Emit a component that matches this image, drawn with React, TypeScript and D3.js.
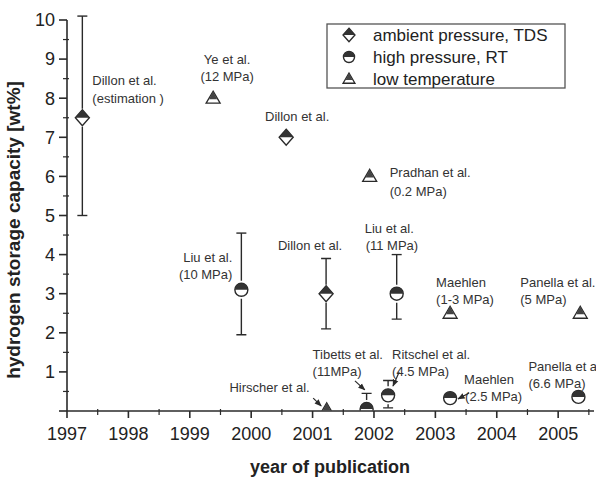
import * as d3 from 'd3';

// hydrogen uptake of carbon materials reported per year
type Kind = 'tds' | 'hp' | 'lt';

const kinds: Kind[] = ['tds', 'hp', 'lt'];
const kindNames = ['ambient pressure, TDS', 'high pressure, RT', 'low temperature'];

const studyKind: Kind[] = ['tds', 'lt', 'tds', 'lt', 'hp', 'tds', 'hp', 'lt', 'lt', 'lt', 'hp', 'hp', 'hp', 'hp'];
const studyYear = [1997.25, 1999.38, 2000.57, 2001.93, 1999.84, 2001.22, 2002.37, 2003.24, 2005.36, 2001.23, 2001.88, 2002.23, 2003.24, 2005.33];
const studyValue = [7.5, 8, 7, 6, 3.1, 3, 3, 2.5, 2.5, 0.03, 0.05, 0.4, 0.33, 0.36];
const errLow: (number | null)[] = [5, null, null, null, 1.95, 2.1, 2.35, null, null, null, null, 0.08, null, null];
const errHigh: (number | null)[] = [10.1, null, null, null, 4.55, 3.9, 4.0, null, null, null, 0.45, 0.78, null, null];
const studyLabel: string[][] = [
  ['Dillon et al.', '(estimation )'],
  ['Ye et al.', '(12 MPa)'],
  ['Dillon et al.'],
  ['Pradhan et al.', '(0.2 MPa)'],
  ['Liu et al.', '(10 MPa)'],
  ['Dillon et al.'],
  ['Liu et al.', '(11 MPa)'],
  ['Maehlen', '(1-3 MPa)'],
  ['Panella et al.', '(5 MPa)'],
  ['Hirscher et al.'],
  ['Tibetts et al.', '(11MPa)'],
  ['Ritschel et al.', '(4.5 MPa)'],
  ['Maehlen', '(2.5 MPa)'],
  ['Panella et al.', '(6.6 MPa)'],
];

const yearTicks = [1997, 1998, 1999, 2000, 2001, 2002, 2003, 2004, 2005];
const valueTicks = [1, 2, 3, 4, 5, 6, 7, 8, 9, 10];

// label placement relative to its marker (px)
const labelPlace: { anchor: string; dx: number[]; dy: number[] }[] = [
  { anchor: 'start', dx: [10, 10], dy: [-33, -15] },
  { anchor: 'middle', dx: [14, 14], dy: [-34, -17] },
  { anchor: 'middle', dx: [11], dy: [-16] },
  { anchor: 'start', dx: [20, 20], dy: [1, 20] },
  { anchor: 'end', dx: [-9, -9], dy: [-28, -11] },
  { anchor: 'middle', dx: [-16], dy: [-44] },
  { anchor: 'start', dx: [-32, -31], dy: [-61, -44] },
  { anchor: 'start', dx: [-14, -14], dy: [-26, -9] },
  { anchor: 'start', dx: [-60, -60], dy: [-26, -9] },
  { anchor: 'end', dx: [-17], dy: [-18] },
  { anchor: 'start', dx: [-54, -54], dy: [-50, -33] },
  { anchor: 'start', dx: [4, 4], dy: [-36, -19] },
  { anchor: 'start', dx: [14, 15], dy: [-14, 3] },
  { anchor: 'start', dx: [-50, -50], dy: [-26, -9] },
];

// pointer arrows [x0, y0, x1, y1] in data units
const arrows = [
  [2001.01, 0.33, 2001.14, 0.13],
  [2001.69, 0.77, 2001.85, 0.54],
  [2002.41, 1.0, 2002.31, 0.64],
  [2003.55, 0.46, 2003.37, 0.31],
];

const W = 596;
const H = 477;
const left = 67;
const bottom = 411;
const font = '"Liberation Sans", Arial, Helvetica, sans-serif';
const ink = '#2a2a2a';

const x = d3.scaleLinear([1997, 2005.6], [left, 595]);
const y = d3.scaleLinear([0, 10], [bottom, 20]);

function Marker({ kind, cx, cy, s = 1 }: { kind: Kind; cx: number; cy: number; s?: number }) {
  if (kind === 'tds') {
    const w = 7 * s, h = 8 * s;
    return (
      <g transform={`translate(${cx},${cy})`}>
        <path d={`M0,${-h}L${w},0L0,${h}L${-w},0Z`} fill="#fff" stroke={ink} strokeWidth={1.4} />
        <path d={`M0,${-h}L${w},0L${-w},0Z`} fill="#333" />
      </g>
    );
  }
  if (kind === 'hp') {
    const r = 6.5 * s;
    return (
      <g transform={`translate(${cx},${cy})`}>
        <circle r={r} fill="#fff" stroke={ink} strokeWidth={1.4} />
        <path d={`M${-r},0A${r},${r} 0 0 1 ${r},0Z`} fill="#333" />
      </g>
    );
  }
  const w = 7 * s, top = -7 * s, base = 5 * s;
  const hw = w * (-top / (base - top));
  return (
    <g transform={`translate(${cx},${cy})`}>
      <path d={`M0,${top}L${w},${base}L${-w},${base}Z`} fill="#fff" stroke={ink} strokeWidth={1.3} />
      <path d={`M0,${top}L${hw},1L${-hw},1Z`} fill="#444" />
    </g>
  );
}

export default function App() {
  const minorX = d3.range(1997.5, 2005.6, 1);
  const minorY = d3.range(0.5, 10, 1);
  const cap = 5;
  const gap = 9;

  return (
    <svg width={W} height={H} style={{ position: 'absolute', left: 0, top: 0, background: '#fff' }} fontFamily={font}>
      <defs>
        <clipPath id="plot">
          <rect x={left} y={0} width={W - left} height={bottom - 0.5} />
        </clipPath>
        <marker id="head" viewBox="0 0 10 10" refX={9} refY={5} markerWidth={6} markerHeight={6} orient="auto">
          <path d="M0,1L10,5L0,9Z" fill={ink} />
        </marker>
      </defs>

      {/* error bars */}
      <g stroke={ink} strokeWidth={1.4} clipPath="url(#plot)">
        {studyYear.map((yr, i) => {
          const cx = x(yr), cy = y(studyValue[i]);
          const hi = errHigh[i], lo = errLow[i];
          return (
            <g key={i}>
              {hi != null && (
                <>
                  <line x1={cx} x2={cx} y1={y(hi)} y2={cy - gap} />
                  <line x1={cx - cap} x2={cx + cap} y1={y(hi)} y2={y(hi)} />
                </>
              )}
              {lo != null && (
                <>
                  <line x1={cx} x2={cx} y1={cy + gap} y2={y(lo)} />
                  <line x1={cx - cap} x2={cx + cap} y1={y(lo)} y2={y(lo)} />
                </>
              )}
            </g>
          );
        })}
      </g>

      {/* markers */}
      <g clipPath="url(#plot)">
        {studyYear.map((yr, i) => (
          <Marker key={i} kind={studyKind[i]} cx={x(yr)} cy={y(studyValue[i])} />
        ))}
      </g>

      {/* labels */}
      <g fontSize={13} fill="#333">
        {studyLabel.map((lines, i) => {
          const cx = x(studyYear[i]), cy = y(studyValue[i]);
          const p = labelPlace[i];
          return lines.map((t, j) => (
            <text key={`${i}-${j}`} x={cx + p.dx[j]} y={cy + p.dy[j]} textAnchor={p.anchor}>{t}</text>
          ));
        })}
      </g>

      {/* pointer arrows */}
      <g stroke={ink} strokeWidth={1.2}>
        {arrows.map((a, i) => (
          <line key={i} x1={x(a[0])} y1={y(a[1])} x2={x(a[2])} y2={y(a[3])} markerEnd="url(#head)" />
        ))}
      </g>

      {/* axes */}
      <g stroke={ink} strokeWidth={1.6}>
        <line x1={left} x2={left} y1={y(10)} y2={bottom} />
        <line x1={left} x2={594} y1={bottom} y2={bottom} />
        {yearTicks.map(t => <line key={t} x1={x(t)} x2={x(t)} y1={bottom} y2={bottom + 7} />)}
        {minorX.map(t => <line key={t} x1={x(t)} x2={x(t)} y1={bottom - 2} y2={bottom + 4} strokeWidth={1.2} />)}
        {[0, ...valueTicks].map(t => <line key={t} x1={left - 8} x2={left} y1={y(t)} y2={y(t)} />)}
        {minorY.map(t => <line key={t} x1={left - 4} x2={left + 2} y1={y(t)} y2={y(t)} strokeWidth={1.2} />)}
      </g>
      <g fontSize={18} fill="#222">
        {yearTicks.map(t => (
          <text key={t} x={x(t)} y={439.5} textAnchor="middle">{t}</text>
        ))}
        {valueTicks.map(t => (
          <text key={t} x={55} y={y(t)} dy="0.35em" textAnchor="end">{t}</text>
        ))}
      </g>
      <text x={330} y={473} textAnchor="middle" fontSize={18} fontWeight="bold" fill="#222">year of publication</text>
      <text transform={`translate(20,${(78 + 382) / 2}) rotate(-90)`} textAnchor="middle" fontSize={19} fontWeight="bold" fill="#222">
        hydrogen storage capacity [wt%]
      </text>

      {/* legend */}
      <g>
        <rect x={327} y={24} width={238} height={64} fill="#fff" stroke="#555" strokeWidth={1.3} />
        {kinds.map((k, i) => (
          <g key={k}>
            <Marker kind={k} cx={349} cy={35 + i * 22} s={0.85} />
            <text x={373} y={35 + i * 22} dy="0.35em" fontSize={17} fill="#222">{kindNames[i]}</text>
          </g>
        ))}
      </g>
    </svg>
  );
}
